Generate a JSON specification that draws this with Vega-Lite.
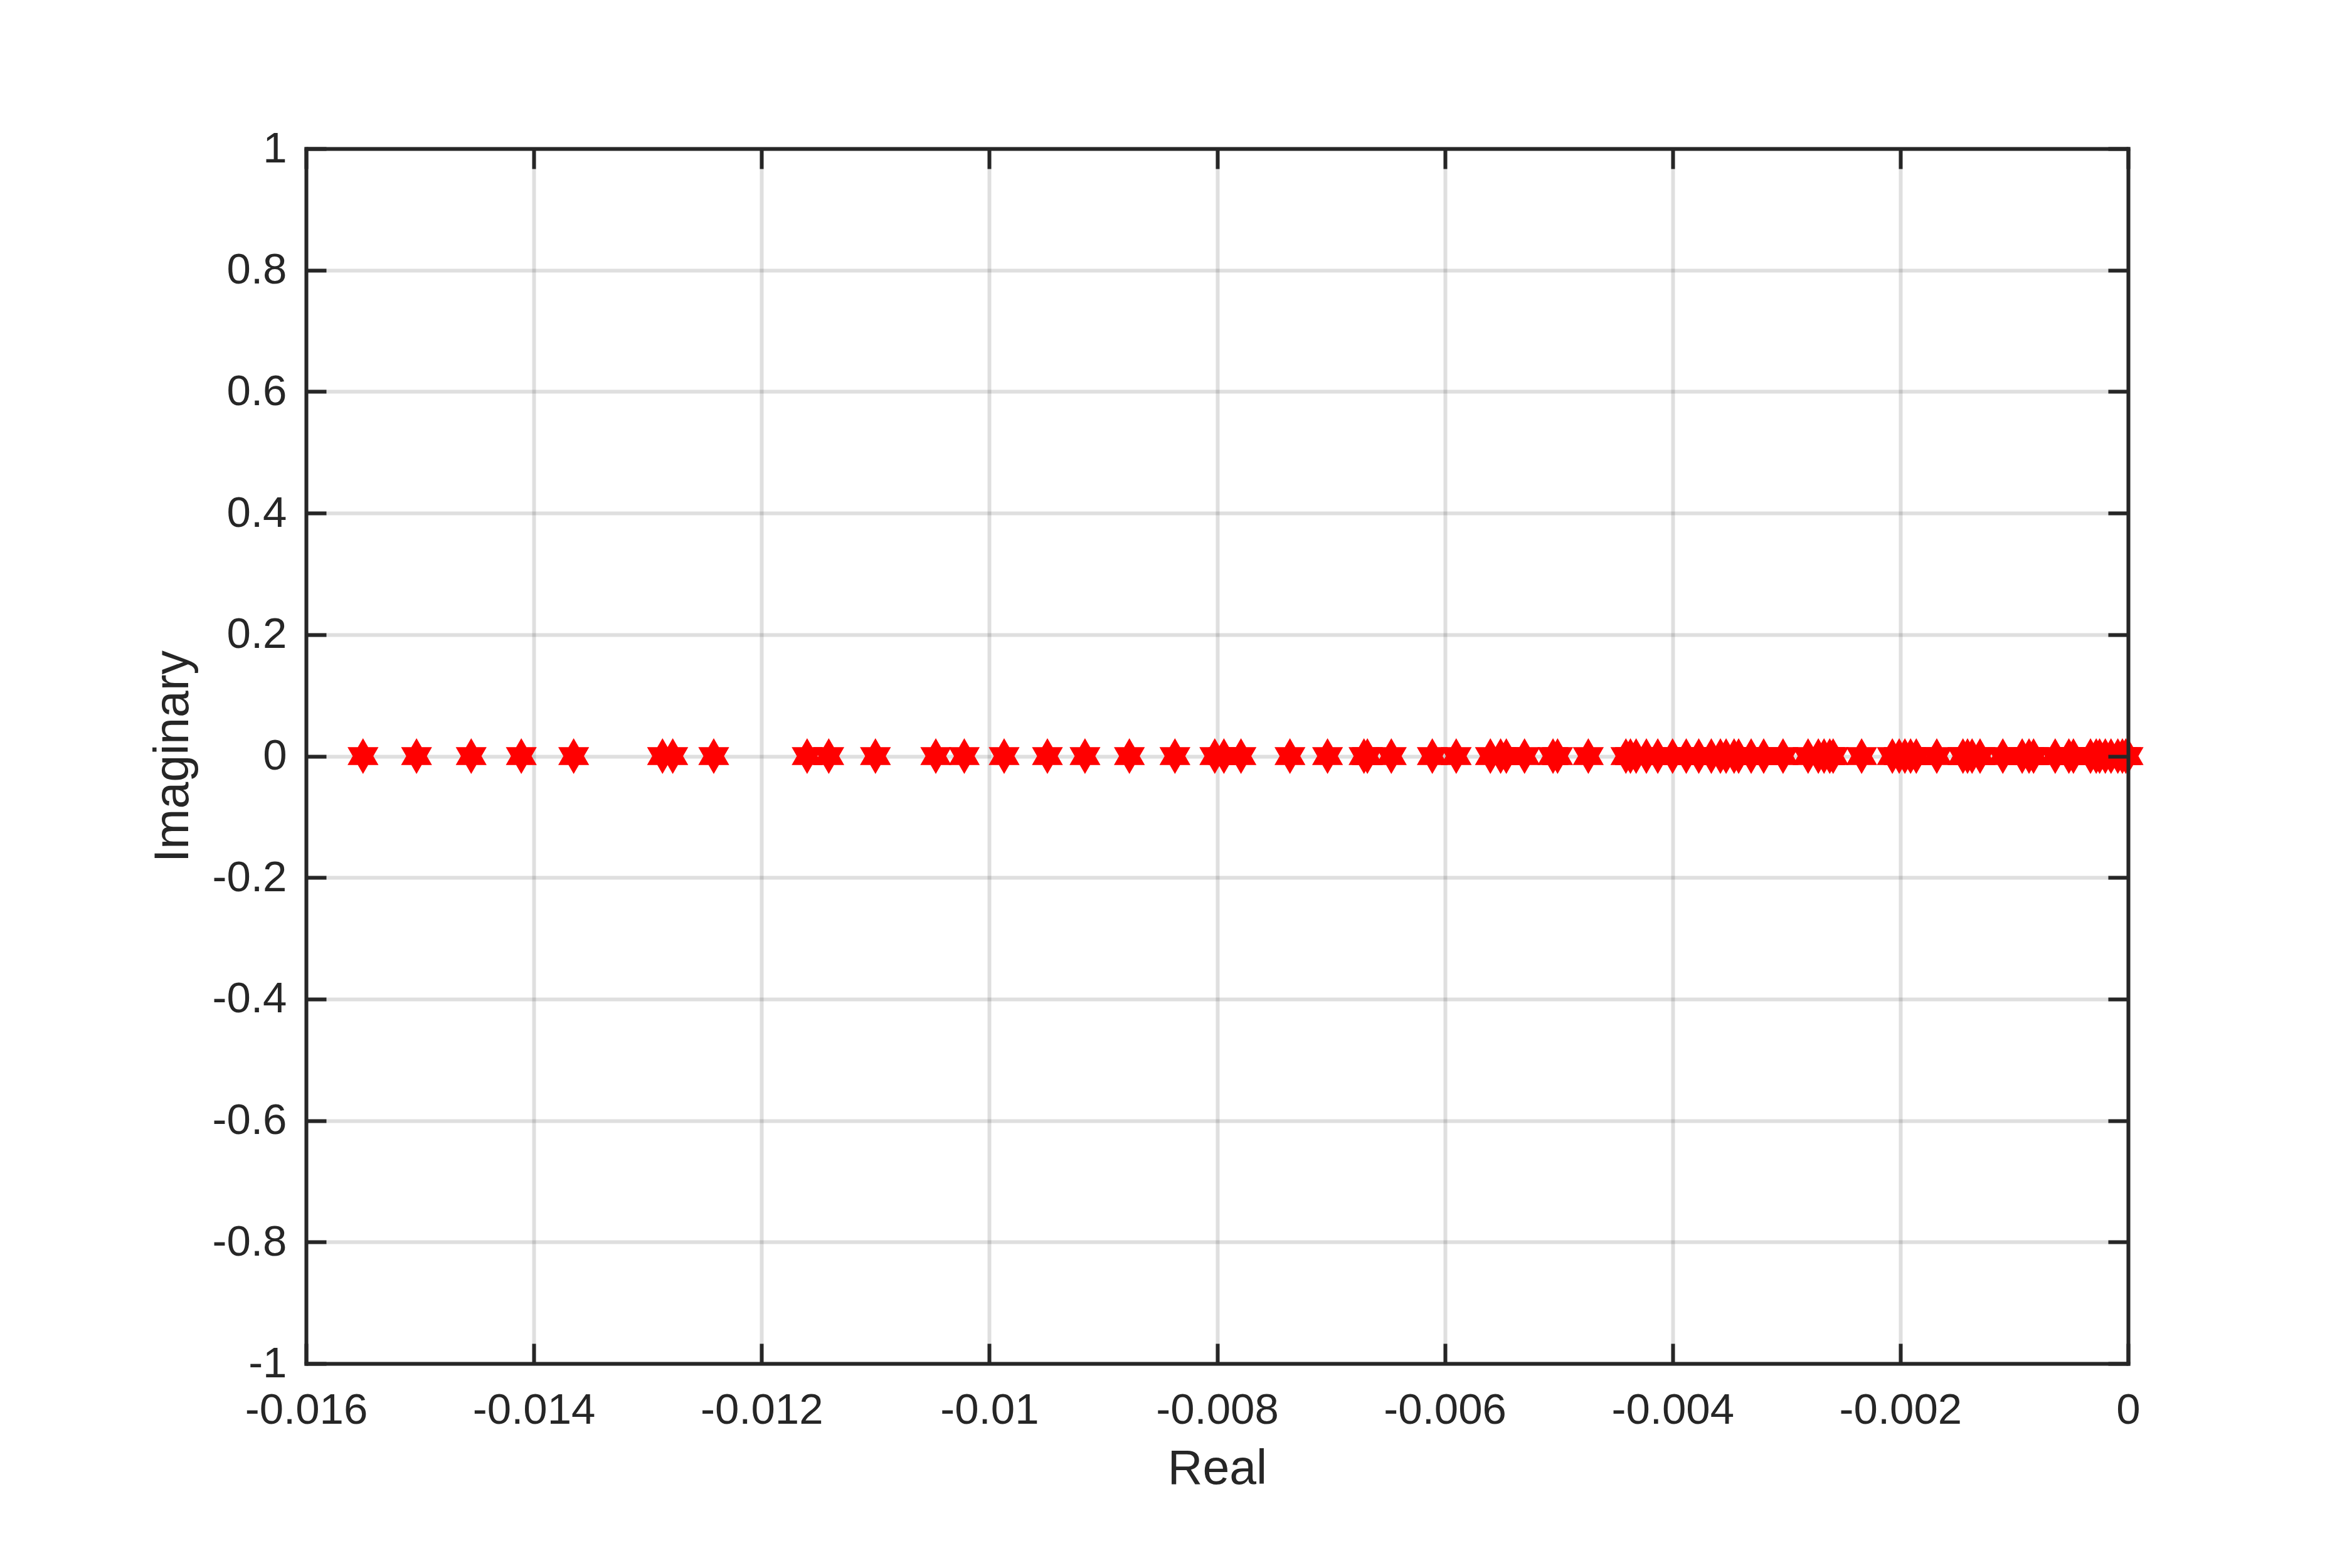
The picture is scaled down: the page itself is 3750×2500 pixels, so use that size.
{
  "$schema": "https://vega.github.io/schema/vega-lite/v6.json",
  "autosize": {"type": "none"},
  "padding": {"left": 488, "top": 237, "right": 357, "bottom": 326},
  "width": 2905,
  "height": 1937,
  "background": "white",
  "config": {
    "view": {"stroke": null},
    "axis": {
      "labelFont": "Liberation Sans",
      "titleFont": "Liberation Sans",
      "labelFontSize": 69,
      "titleFontSize": 77,
      "titleFontWeight": "normal",
      "labelColor": "#262626",
      "titleColor": "#262626",
      "labelLimit": 0,
      "titleLimit": 0,
      "domainColor": "#262626",
      "domainWidth": 6,
      "domainCap": "square",
      "tickColor": "#262626",
      "tickWidth": 6,
      "tickSize": -32,
      "gridColor": "#262626",
      "gridOpacity": 0.15,
      "gridWidth": 6
    }
  },
  "data": {
    "values": [
      {"re": -0.01550, "im": 0}, {"re": -0.01503, "im": 0}, {"re": -0.01455, "im": 0}, {"re": -0.01411, "im": 0}, {"re": -0.01365, "im": 0},
      {"re": -0.01287, "im": 0}, {"re": -0.01278, "im": 0}, {"re": -0.01242, "im": 0},
      {"re": -0.01160, "im": 0}, {"re": -0.01141, "im": 0}, {"re": -0.01100, "im": 0}, {"re": -0.01047, "im": 0}, {"re": -0.01022, "im": 0},
      {"re": -0.00987, "im": 0}, {"re": -0.00949, "im": 0}, {"re": -0.00916, "im": 0}, {"re": -0.00877, "im": 0}, {"re": -0.00837, "im": 0},
      {"re": -0.00802, "im": 0}, {"re": -0.00794, "im": 0}, {"re": -0.00779, "im": 0},
      {"re": -0.00736, "im": 0}, {"re": -0.00703, "im": 0}, {"re": -0.00671, "im": 0}, {"re": -0.00668, "im": 0}, {"re": -0.00647, "im": 0},
      {"re": -0.00611, "im": 0}, {"re": -0.00590, "im": 0}, {"re": -0.00560, "im": 0}, {"re": -0.00551, "im": 0}, {"re": -0.00546, "im": 0},
      {"re": -0.00530, "im": 0}, {"re": -0.00505, "im": 0}, {"re": -0.00501, "im": 0},
      {"re": -0.00474, "im": 0}, {"re": -0.00441, "im": 0}, {"re": -0.00437, "im": 0}, {"re": -0.00432, "im": 0}, {"re": -0.00423, "im": 0},
      {"re": -0.00413, "im": 0}, {"re": -0.00400, "im": 0}, {"re": -0.00388, "im": 0}, {"re": -0.00377, "im": 0}, {"re": -0.00366, "im": 0},
      {"re": -0.00358, "im": 0}, {"re": -0.00353, "im": 0}, {"re": -0.00346, "im": 0}, {"re": -0.00342, "im": 0}, {"re": -0.00331, "im": 0},
      {"re": -0.00320, "im": 0}, {"re": -0.00303, "im": 0}, {"re": -0.00281, "im": 0}, {"re": -0.00272, "im": 0}, {"re": -0.00267, "im": 0},
      {"re": -0.00262, "im": 0}, {"re": -0.00259, "im": 0},
      {"re": -0.00234, "im": 0}, {"re": -0.00207, "im": 0}, {"re": -0.00201, "im": 0}, {"re": -0.00196, "im": 0}, {"re": -0.00191, "im": 0},
      {"re": -0.00186, "im": 0}, {"re": -0.00168, "im": 0}, {"re": -0.00145, "im": 0}, {"re": -0.00141, "im": 0}, {"re": -0.00137, "im": 0},
      {"re": -0.00130, "im": 0}, {"re": -0.00110, "im": 0}, {"re": -0.00093, "im": 0}, {"re": -0.00087, "im": 0}, {"re": -0.00083, "im": 0},
      {"re": -0.00064, "im": 0}, {"re": -0.00052, "im": 0}, {"re": -0.00048, "im": 0}, {"re": -0.00033, "im": 0}, {"re": -0.00028, "im": 0},
      {"re": -0.00025, "im": 0}, {"re": -0.00020, "im": 0}, {"re": -0.00015, "im": 0}, {"re": -0.00009, "im": 0}, {"re": -0.00005, "im": 0},
      {"re": -0.00002, "im": 0}, {"re": 0.0, "im": 0}
    ]
  },
  "resolve": {"axis": {"x": "independent", "y": "independent"}},
  "layer": [
    {
      "mark": {
        "type": "point",
        "shape": "M0,-1L0.2887,-0.5L0.866,-0.5L0.5774,0L0.866,0.5L0.2887,0.5L0,1L-0.2887,0.5L-0.866,0.5L-0.5774,0L-0.866,-0.5L-0.2887,-0.5Z",
        "filled": true,
        "fill": "#ff0000",
        "fillOpacity": 1,
        "opacity": 1,
        "strokeWidth": 0,
        "size": 3249
      },
      "encoding": {
        "x": {
          "field": "re", "type": "quantitative",
          "scale": {"domain": [-0.016, 0], "nice": false, "zero": false},
          "axis": {
            "orient": "bottom",
            "title": "Real",
            "values": [-0.016, -0.014, -0.012, -0.01, -0.008, -0.006, -0.004, -0.002, 0],
            "format": "~g",
            "labelExpr": "replace(datum.label, '\u2212', '-')",
            "labelBaseline": "alphabetic",
            "labelPadding": 127,
            "labelFlush": false,
            "labelOverlap": false,
            "titleBaseline": "alphabetic",
            "titleY": 191,
            "grid": true,
            "zindex": 0
          }
        },
        "y": {
          "field": "im", "type": "quantitative",
          "scale": {"domain": [-1, 1], "nice": false, "zero": false},
          "axis": {
            "orient": "left",
            "title": "Imaginary",
            "values": [-1, -0.8, -0.6, -0.4, -0.2, 0, 0.2, 0.4, 0.6, 0.8, 1],
            "format": "~g",
            "labelExpr": "replace(datum.label, '\u2212', '-')",
            "labelBaseline": "middle",
            "labelPadding": 63,
            "labelFlush": false,
            "labelOverlap": false,
            "titleBaseline": "alphabetic",
            "titleAngle": 270,
            "titleX": -189,
            "grid": true,
            "zindex": 0
          }
        }
      }
    },
    {
      "mark": {"type": "point", "opacity": 0},
      "encoding": {
        "x": {
          "field": "re", "type": "quantitative",
          "scale": {"domain": [-0.016, 0], "nice": false, "zero": false},
          "axis": {
            "orient": "top",
            "title": null,
            "labels": false,
            "values": [-0.016, -0.014, -0.012, -0.01, -0.008, -0.006, -0.004, -0.002, 0],
            "grid": false,
            "zindex": 1
          }
        },
        "y": {
          "field": "im", "type": "quantitative",
          "scale": {"domain": [-1, 1], "nice": false, "zero": false},
          "axis": {
            "orient": "right",
            "title": null,
            "labels": false,
            "values": [-1, -0.8, -0.6, -0.4, -0.2, 0, 0.2, 0.4, 0.6, 0.8, 1],
            "grid": false,
            "zindex": 1
          }
        }
      }
    }
  ]
}
